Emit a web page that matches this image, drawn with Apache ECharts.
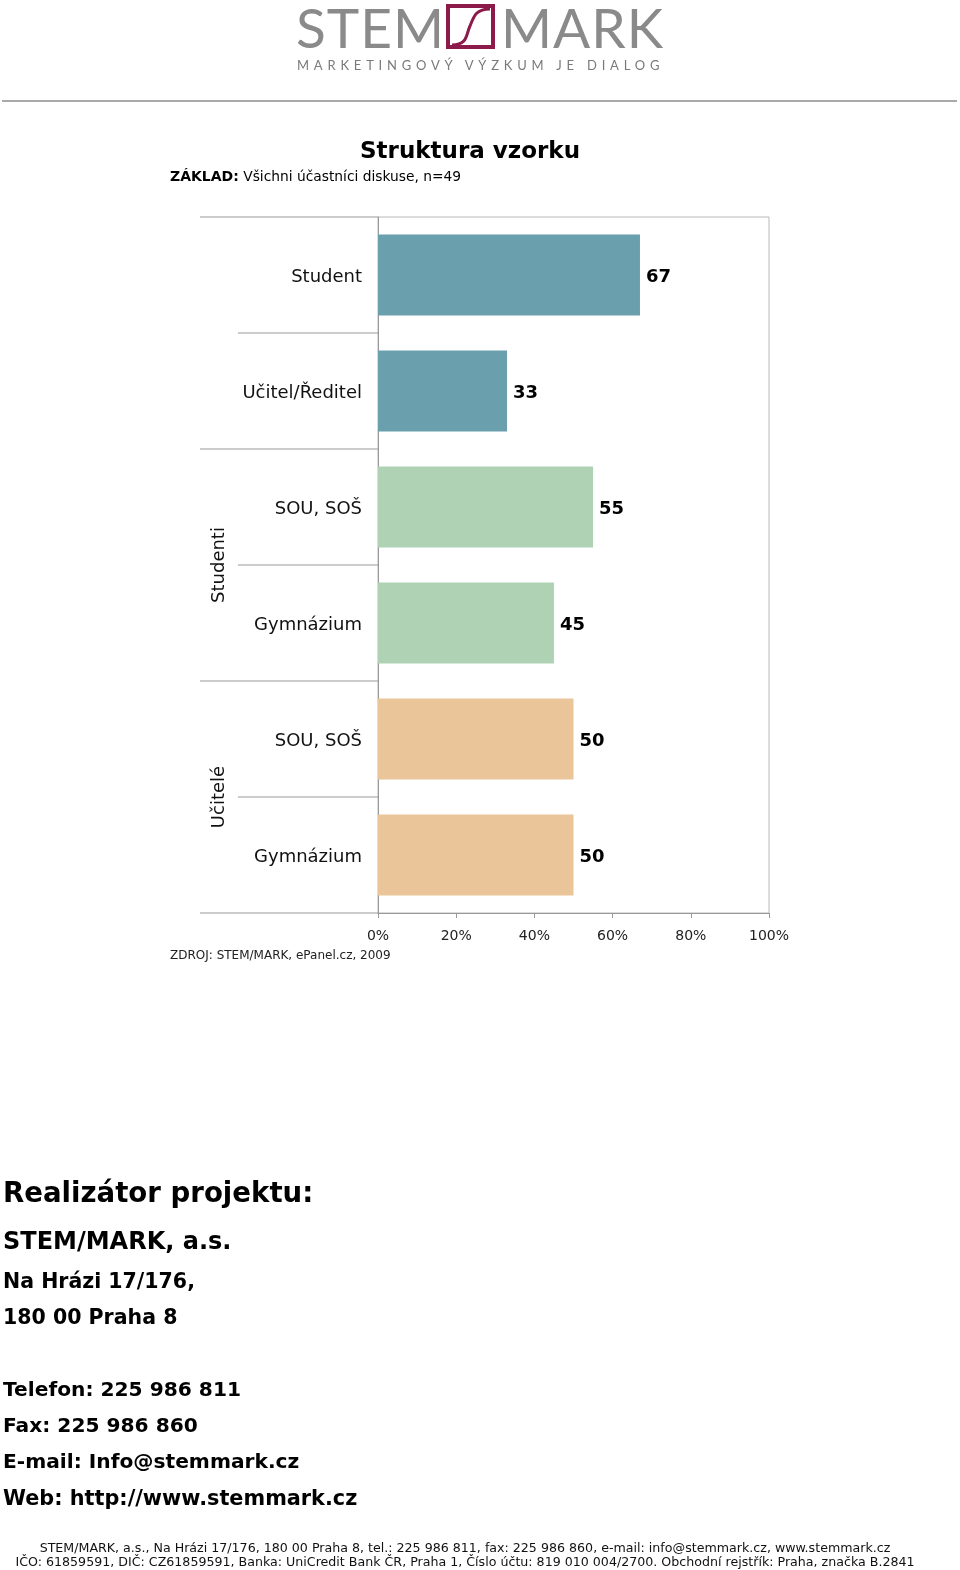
<!DOCTYPE html>
<html><head><meta charset="utf-8">
<script src="https://cdn.jsdelivr.net/npm/echarts@6/dist/echarts.min.js"></script>
<style>
html,body{margin:0;padding:0;background:#fff;}
#wrap{position:relative;width:960px;height:1570px;}
#chart{position:absolute;left:0;top:0;width:960px;height:1570px;}
#logo{position:absolute;left:0;top:0;width:960px;height:100px;pointer-events:none;}
.lw{position:absolute;top:-6px;font-family:Lato,'Open Sans',sans-serif;font-weight:400;font-size:55px;color:#8a8a8a;letter-spacing:1px;}
#sub{position:absolute;left:297px;top:57px;font-family:Lato,sans-serif;font-size:13px;color:#7a7a7a;letter-spacing:4.8px;white-space:nowrap;}
</style></head>
<body><div id="wrap">
<div id="chart"></div>
<div id="logo">
  <div class="lw" style="left:296px">STEM</div>
  <svg style="position:absolute;left:446px;top:4px" width="50" height="46"><rect x="2" y="2" width="45" height="41" fill="none" stroke="#8c1a4a" stroke-width="4"/><path d="M6,41 C22,41 20,30 24,22 C28,12 30,5 44,5" fill="none" stroke="#8c1a4a" stroke-width="3"/></svg>
  <div class="lw" style="left:501px">MARK</div>
  <div id="sub">MARKETINGOVÝ VÝZKUM JE DIALOG</div>
</div>
</div>
<script>
const categories = ['Student', 'Učitel/Ředitel', 'SOU, SOŠ', 'Gymnázium', 'SOU, SOŠ', 'Gymnázium'];
const values = [67, 33, 55, 45, 50, 50];
const rowGroup = ['role', 'role', 'stud', 'stud', 'ucit', 'ucit'];
const groupLabels = [{name: 'Studenti', rows: [2, 3]}, {name: 'Učitelé', rows: [4, 5]}];
const xTicks = [0, 20, 40, 60, 80, 100];

const groupColors = {role: '#6a9fad', stud: '#aed2b3', ucit: '#eac599'};
const FONT = "'DejaVu Sans', Verdana, sans-serif";
const G = {left: 378, top: 217, width: 391, height: 696};

const chart = echarts.init(document.getElementById('chart'), null, {renderer: 'canvas'});
const opt = {
  animation: false,
  backgroundColor: '#fff',
  grid: {left: G.left, top: G.top, width: G.width, height: G.height, show: true, borderColor: '#b8b8b8', borderWidth: 1},
  xAxis: {
    type: 'value', min: xTicks[0], max: xTicks[xTicks.length - 1], interval: 20,
    axisLine: {show: true, lineStyle: {color: '#999'}},
    axisTick: {show: true, length: 5, lineStyle: {color: '#999'}},
    splitLine: {show: false},
    axisLabel: {formatter: '{value}%', margin: 16, fontFamily: FONT, fontSize: 14, color: '#222'}
  },
  yAxis: {
    type: 'category', inverse: true, data: categories.map((c, i) => c + '#' + i),
    axisLine: {show: true, lineStyle: {color: '#999'}},
    axisTick: {show: false},
    axisLabel: {formatter: (v, i) => '{a|' + categories[i] + '}', margin: 16,
      rich: {a: {fontFamily: FONT, fontSize: 18, color: '#111', padding: [4, 0, 0, 0]}}}
  },
  series: [{
    type: 'bar', barCategoryGap: '30%',
    data: values.map((v, i) => ({value: v, itemStyle: {color: groupColors[rowGroup[i]]}})),
    label: {show: true, position: 'right', distance: 6, formatter: '{a|{c}}',
      rich: {a: {fontFamily: FONT, fontWeight: 'bold', fontSize: 18, color: '#000', padding: [4, 0, 0, 0]}}}
  }]
};
chart.setOption(opt);

// decorations derived from axis scale
const yOf = i => chart.convertToPixel({yAxisIndex: 0}, i);
const band = yOf(1) - yOf(0);
const x0 = chart.convertToPixel({xAxisIndex: 0}, 0);
const gfx = [];
const line = (x1, y, x2, c) => gfx.push({type: 'line', shape: {x1: x1, y1: y, x2: x2, y2: y}, style: {stroke: c || '#999', lineWidth: 1}, silent: true});
line(200, yOf(0) - band / 2, x0);
line(200, yOf(categories.length - 1) + band / 2, x0);
for (let i = 1; i < categories.length; i++) {
  const y = yOf(i) - band / 2;
  const groupStart = rowGroup[i] !== rowGroup[i - 1];
  line(groupStart ? 200 : 238, y, x0);
}
groupLabels.forEach(g => {
  const yc = (yOf(g.rows[0]) + yOf(g.rows[g.rows.length - 1])) / 2;
  gfx.push({type: 'text', x: 219, y: yc, rotation: Math.PI / 2,
    style: {text: g.name, font: '18px ' + FONT, fill: '#111', align: 'center', verticalAlign: 'middle'}});
});
const txt = (x, y, t, size, weight, align, fill) => gfx.push({type: 'text', x: x, y: y,
  style: {text: t, font: (weight || 'normal') + ' ' + size + 'px ' + FONT, fill: fill || '#000', align: align || 'left', verticalAlign: 'middle'}});

// header rule
gfx.push({type: 'line', shape: {x1: 2, y1: 101, x2: 957, y2: 101}, style: {stroke: '#555', lineWidth: 1.2}});
// title
txt(470, 152, 'Struktura vzorku', 23, 'bold', 'center');
gfx.push({type: 'text', x: 170, y: 177, style: {
  text: '{b|ZÁKLAD:} Všichni účastníci diskuse, n=49',
  rich: {b: {font: 'bold 14px ' + FONT, fill: '#000'}},
  font: '13.8px ' + FONT, fill: '#000', verticalAlign: 'middle'}});
txt(170, 956, 'ZDROJ: STEM/MARK, ePanel.cz, 2009', 12, 'normal', 'left', '#222');

// contact block
txt(3, 1195, 'Realizátor projektu:', 27.6, 'bold');
txt(3, 1243, 'STEM/MARK, a.s.', 24, 'bold');
txt(3, 1283, 'Na Hrázi 17/176,', 20.5, 'bold');
txt(3, 1319, '180 00 Praha 8', 20.5, 'bold');
txt(3, 1391, 'Telefon: 225 986 811', 20.2, 'bold');
txt(3, 1427, 'Fax: 225 986 860', 20.2, 'bold');
txt(3, 1463, 'E-mail: Info@stemmark.cz', 20.2, 'bold');
txt(3, 1500, 'Web: http://www.stemmark.cz', 20.8, 'bold');

// bottom footer
const FF = "13px 'DejaVu Sans Condensed', 'Liberation Sans', sans-serif";
gfx.push({type: 'text', x: 465, y: 1549, scaleX: 1.08, style: {text: 'STEM/MARK, a.s., Na Hrázi 17/176, 180 00 Praha 8, tel.: 225 986 811, fax: 225 986 860, e-mail: info@stemmark.cz, www.stemmark.cz', font: FF, fill: '#111', align: 'center', verticalAlign: 'middle'}});
gfx.push({type: 'text', x: 465, y: 1563, scaleX: 1.08, style: {text: 'IČO: 61859591, DIČ: CZ61859591, Banka: UniCredit Bank ČR, Praha 1, Číslo účtu: 819 010 004/2700. Obchodní rejstřík: Praha, značka B.2841', font: FF, fill: '#111', align: 'center', verticalAlign: 'middle'}});

chart.setOption({graphic: gfx});
</script>
</body></html>
